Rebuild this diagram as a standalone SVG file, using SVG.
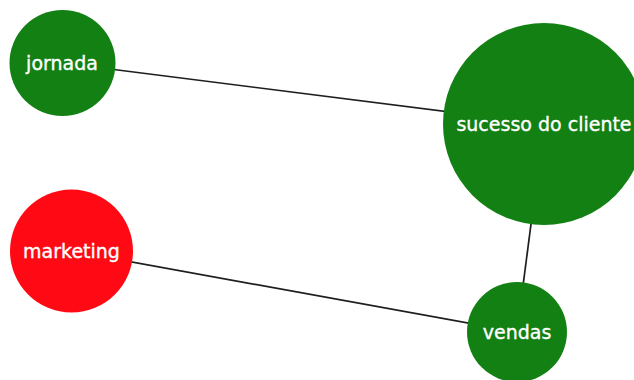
<svg xmlns="http://www.w3.org/2000/svg" width="634" height="380" viewBox="0 0 634 380">
  <style>
    .link { stroke: #1e1e1e; stroke-width: 1.7; fill: none; }
    .node circle { stroke: none; }
    .green { fill: #138013; }
    .red { fill: #ff0a14; }
    .label { font-family: "DejaVu Sans", Verdana, sans-serif; font-size: 19px; fill: #ffffff; stroke: #ffffff; stroke-width: 0.35; text-anchor: middle; }
  </style>
  <rect width="634" height="380" fill="#ffffff"/>
  <g id="links">
    <line class="link" x1="62.5" y1="63" x2="544" y2="124"/>
    <line class="link" x1="544" y1="124" x2="517" y2="332"/>
    <line class="link" x1="71.5" y1="251" x2="517" y2="332"/>
  </g>
  <g id="node-jornada" class="node">
    <circle class="green" cx="62.5" cy="63" r="53"/>
    <text class="label" x="62" y="69.5">jornada</text>
  </g>
  <g id="node-sucesso" class="node">
    <circle class="green" cx="544" cy="124" r="101"/>
    <text class="label" x="544" y="130.5">sucesso do cliente</text>
  </g>
  <g id="node-marketing" class="node">
    <circle class="red" cx="71.5" cy="251" r="61.5"/>
    <text class="label" x="71.5" y="258">marketing</text>
  </g>
  <g id="node-vendas" class="node">
    <circle class="green" cx="517" cy="332" r="50"/>
    <text class="label" x="517" y="338.5">vendas</text>
  </g>
</svg>
